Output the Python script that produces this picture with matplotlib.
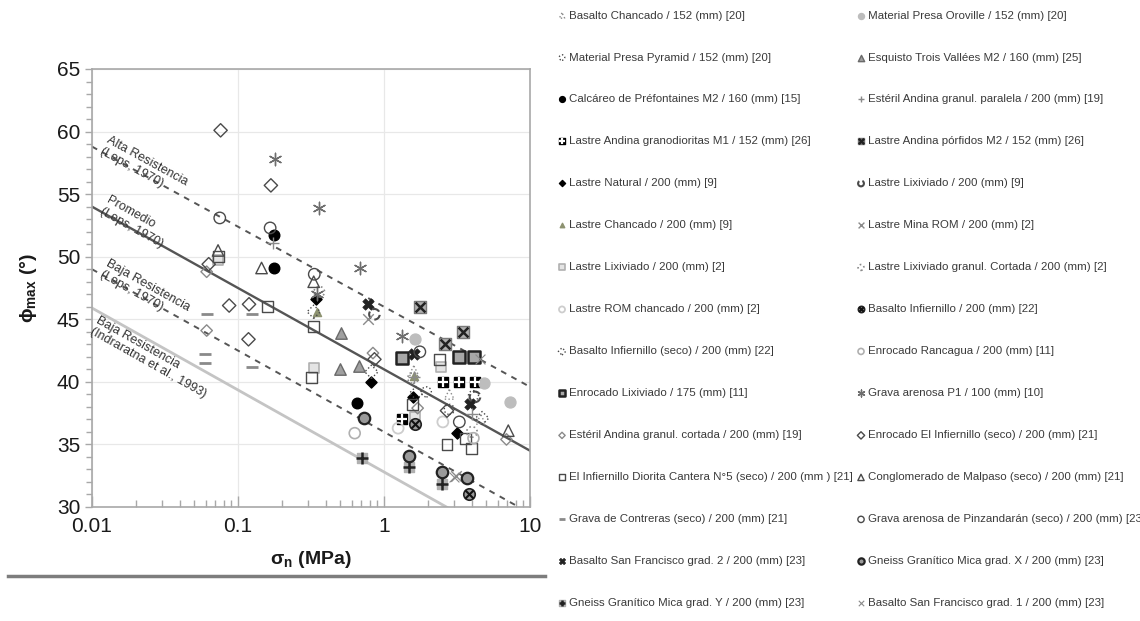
import numpy as np
import matplotlib.pyplot as plt
from matplotlib.lines import Line2D
from matplotlib.legend_handler import HandlerTuple

plt.rcParams['font.family'] = ['Liberation Sans', 'DejaVu Sans']
plt.rcParams['mathtext.fontset'] = 'custom'
plt.rcParams['mathtext.rm'] = 'Liberation Sans'
plt.rcParams['mathtext.bf'] = 'Liberation Sans:bold'

# ensayos: (sigma_n [MPa], phi_max [grados])
basalto_chancado = [(1.6, 40.9), (2.8, 39.0), (4.6, 37.0)]
material_oroville = [(1.63, 43.4), (4.85, 39.9), (7.3, 38.4)]
material_pyramid = [(1.95, 39.2), (2.8, 37.8), (4.1, 38.9)]
esquisto_trois = [(0.51, 43.9), (0.50, 41.0), (0.675, 41.3)]
calcareo = [(0.177, 51.7), (0.177, 49.1), (0.657, 38.3)]
esteril_paralela = [(0.175, 51.1), (1.6, 40.4), (4.0, 37.4)]
granodioritas_m1 = [(1.32, 37.0), (2.55, 40.0), (3.26, 40.0), (4.2, 40.0)]
porfidos_m2 = [(1.77, 46.0), (2.62, 43.0), (3.46, 44.0)]
lastre_natural = [(0.34, 46.6), (0.81, 39.95), (1.59, 38.8), (3.15, 35.9)]
lastre_lixiviado_9 = [(0.86, 45.4), (4.2, 38.8)]
lastre_chancado = [(0.35, 45.6), (1.6, 40.5)]
lastre_mina_rom = [(0.78, 45.0), (3.1, 32.5)]
lastre_lixiviado_2 = [(0.073, 49.7), (0.33, 41.1), (1.63, 37.2), (2.45, 41.2)]
lixiviado_cortada = [(0.36, 47.2), (1.58, 40.3), (4.0, 36.0)]
rom_chancado = [(1.25, 36.3), (2.53, 36.8)]
basalto_infiernillo = [(1.63, 36.6), (3.82, 31.0)]
basalto_infiernillo_seco = [(0.33, 45.6), (0.82, 40.8), (1.66, 39.1), (4.7, 37.1)]
enrocado_rancagua = [(0.63, 35.9), (4.1, 35.5)]
enrocado_lixiviado = [(1.32, 41.9), (3.26, 42.0), (4.15, 42.0)]
grava_p1 = [(0.18, 57.8), (0.36, 53.9), (0.35, 47.0), (0.69, 49.1), (1.32, 43.7)]
esteril_cortada = [(0.061, 44.1), (0.061, 48.8), (0.84, 42.3), (1.70, 37.9), (6.9, 35.4)]
enrocado_infiernillo = [(0.076, 60.1), (0.168, 55.7), (0.063, 49.4), (0.087, 46.1),
                        (0.119, 46.2), (0.118, 43.4), (0.86, 41.8), (2.7, 37.7)]
diorita_n5 = [(0.073, 50.0), (0.16, 46.0), (0.33, 44.4), (0.32, 40.35), (1.57, 38.2),
              (2.4, 41.8), (2.7, 35.0), (3.64, 35.5), (4.0, 34.7)]
conglomerado_malpaso = [(0.073, 50.5), (0.145, 49.1), (0.33, 48.0), (7.1, 36.1)]
grava_contreras = [(0.061, 45.4), (0.0595, 42.2), (0.059, 41.5), (0.125, 45.4), (0.125, 41.2)]
grava_pinzandaran = [(0.075, 53.1), (0.166, 52.3), (0.333, 48.6), (1.76, 42.4), (3.28, 36.8)]
sf_grad2 = [(0.78, 46.2), (1.61, 42.2), (3.88, 38.2)]
gneiss_x = [(0.73, 37.15), (1.48, 34.1), (2.49, 32.8), (3.72, 32.3)]
gneiss_y = [(0.71, 33.9), (1.48, 33.2), (2.49, 31.8)]
sf_grad1 = [(3.0, 32.4), (4.54, 41.8)]

# rectas de referencia: phi en sigma_n = 0.01 MPa y pendiente por decada
leps_alta = (58.8, -6.4)
leps_promedio = (54.0, -6.5)
leps_baja = (49.0, -6.5)
indraratna_baja = (45.9, -6.55)

K, DG, G, LG, XLG = 'black', '#4a4a4a', '#8a8a8a', '#b0b0b0', '#cdcdcd'

# (etiqueta, datos, estilo, estilo del simbolo superpuesto)
series_left = [
    ('Basalto Chancado / 152 (mm) [20]', basalto_chancado,
     dict(marker='^', s=48, fc='none', ec=G, lw=1, ls=':'), None),
    ('Material Presa Pyramid / 152 (mm) [20]', material_pyramid,
     dict(marker='o', s=52, fc='none', ec=DG, lw=1, ls=':'), None),
    ('Calcáreo de Préfontaines M2 / 160 (mm) [15]', calcareo,
     dict(marker='o', s=58, fc=K, ec=K, lw=1), None),
    ('Lastre Andina granodioritas M1 / 152 (mm) [26]', granodioritas_m1,
     dict(marker='s', s=62, fc=K, ec=K, lw=1), dict(marker='+', s=62, c='white', lw=1.6)),
    ('Lastre Natural / 200 (mm) [9]', lastre_natural,
     dict(marker='D', s=32, fc=K, ec=K, lw=1), None),
    ('Lastre Chancado / 200 (mm) [9]', lastre_chancado,
     dict(marker='^', s=34, fc='#8d9270', ec='#8d9270', lw=1), None),
    ('Lastre Lixiviado / 200 (mm) [2]', lastre_lixiviado_2,
     dict(marker='s', s=58, fc='#e4e4e4', ec=LG, lw=1.2), None),
    ('Lastre ROM chancado / 200 (mm) [2]', rom_chancado,
     dict(marker='o', s=62, fc='none', ec=XLG, lw=1.3), None),
    ('Basalto Infiernillo (seco) / 200 (mm) [22]', basalto_infiernillo_seco,
     dict(marker='D', s=46, fc='none', ec=DG, lw=1, ls=':'), None),
    ('Enrocado Lixiviado / 175 (mm) [11]', enrocado_lixiviado,
     dict(marker='s', s=68, fc='#a8a8a8', ec='#222222', lw=1.8), None),
    ('Estéril Andina granul. cortada / 200 (mm) [19]', esteril_cortada,
     dict(marker='D', s=34, fc='none', ec=G, lw=1), None),
    ('El Infiernillo Diorita Cantera N°5 (seco) / 200 (mm ) [21]', diorita_n5,
     dict(marker='s', s=62, fc='none', ec=DG, lw=1), None),
    ('Grava de Contreras (seco) / 200 (mm) [21]', grava_contreras,
     dict(marker='_', s=80, c=G, lw=2), None),
    ('Basalto San Francisco grad. 2 / 200 (mm) [23]', sf_grad2,
     dict(marker='X', s=68, fc='#222222', ec='#222222', lw=0.5), None),
    ('Gneiss Granítico Mica grad. Y / 200 (mm) [23]', gneiss_y,
     dict(marker='s', s=62, fc=LG, ec=LG, lw=1), dict(marker='+', s=68, c='#222222', lw=1.8)),
]

series_right = [
    ('Material Presa Oroville / 152 (mm) [20]', material_oroville,
     dict(marker='o', s=62, fc='#bdbdbd', ec='#bdbdbd', lw=1), None),
    ('Esquisto Trois Vallées M2 / 160 (mm) [25]', esquisto_trois,
     dict(marker='^', s=68, fc='#a0a0a0', ec='#6a6a6a', lw=1), None),
    ('Estéril Andina granul. paralela / 200 (mm) [19]', esteril_paralela,
     dict(marker='+', s=68, c=G, lw=1), None),
    ('Lastre Andina pórfidos M2 / 152 (mm) [26]', porfidos_m2,
     dict(marker='s', s=68, fc=LG, ec='#7a7a7a', lw=1), dict(marker='x', s=50, c='#222222', lw=1.8)),
    ('Lastre Lixiviado / 200 (mm) [9]', lastre_lixiviado_9,
     dict(marker='o', s=58, fc='none', ec=DG, lw=1.5, ls='--'), None),
    ('Lastre Mina ROM / 200 (mm) [2]', lastre_mina_rom,
     dict(marker='x', s=58, c=G, lw=1), None),
    ('Lastre Lixiviado granul. Cortada / 200 (mm) [2]', lixiviado_cortada,
     dict(marker='o', s=58, fc='none', ec=G, lw=1.2, ls=':'), None),
    ('Basalto Infiernillo / 200 (mm) [22]', basalto_infiernillo,
     dict(marker='o', s=68, fc='#9a9a9a', ec='#222222', lw=1.2), dict(marker='x', s=34, c='#111111', lw=1.5)),
    ('Enrocado Rancagua / 200 (mm) [11]', enrocado_rancagua,
     dict(marker='o', s=62, fc='none', ec=LG, lw=1.2), None),
    ('Grava arenosa P1 / 100 (mm) [10]', grava_p1,
     dict(marker=(6, 2, 0), s=80, c='#6e6e6e', lw=1), None),
    ('Enrocado El Infiernillo (seco) / 200 (mm) [21]', enrocado_infiernillo,
     dict(marker='D', s=46, fc='none', ec=DG, lw=1), None),
    ('Conglomerado de Malpaso (seco) / 200 (mm) [21]', conglomerado_malpaso,
     dict(marker='^', s=68, fc='none', ec=DG, lw=1), None),
    ('Grava arenosa de Pinzandarán (seco) / 200 (mm) [23]', grava_pinzandaran,
     dict(marker='o', s=68, fc='none', ec=DG, lw=1), None),
    ('Gneiss Granítico Mica grad. X / 200 (mm) [23]', gneiss_x,
     dict(marker='o', s=68, fc='#9a9a9a', ec='#222222', lw=1.6), None),
    ('Basalto San Francisco grad. 1 / 200 (mm) [23]', sf_grad1,
     dict(marker='x', s=50, c=G, lw=0.8), None),
]

fig = plt.figure(figsize=(11.4, 6.21), dpi=100)
ax = fig.add_axes([92 / 1140, 1 - 507 / 621, 438 / 1140, 438 / 621])
ax.set_xscale('log')
ax.set_xlim(0.01, 10)
ax.set_ylim(30, 65)

ax.grid(True, which='major', color='#e8e8e8', lw=0.9, zorder=0)
ax.set_axisbelow(True)
for sp in ax.spines.values():
    sp.set_color('#a8a8a8')
    sp.set_linewidth(1.2)
ax.yaxis.set_minor_locator(plt.MultipleLocator(1))
ax.set_yticks(range(30, 66, 5))
ax.set_xticks([0.01, 0.1, 1, 10], ['0.01', '0.1', '1', '10'])
ax.tick_params(axis='both', which='major', labelsize=15, colors='#a8a8a8', labelcolor='#1a1a1a')
ax.tick_params(axis='y', which='both', direction='out', length=5, width=1)
ax.tick_params(axis='y', which='minor', length=4, colors='#a8a8a8')
ax.tick_params(axis='x', which='both', direction='in', length=5, width=1, colors='#a8a8a8')
ax.tick_params(axis='x', which='major', labelcolor='#1a1a1a', length=8, pad=7)

xs = np.logspace(-2, 1, 200)


def recta(params):
    a, b = params
    return a + b * (np.log10(xs) + 2)


ax.plot(xs, recta(leps_alta), color='#555555', lw=1.4, ls=(0, (3, 3)), zorder=2)
ax.plot(xs, recta(leps_promedio), color='#555555', lw=1.7, zorder=2)
ax.plot(xs, recta(leps_baja), color='#555555', lw=1.4, ls=(0, (3, 3)), zorder=2)
ax.plot(xs, recta(indraratna_baja), color='#c4c4c4', lw=2, zorder=2)


def draw_series(lst):
    handles = []
    for label, pts, st, over in lst:
        x = [p[0] for p in pts]
        y = [p[1] for p in pts]
        st = dict(st)
        kw = dict(marker=st.pop('marker'), s=st.pop('s'), linewidths=st.pop('lw'), zorder=3)
        if 'c' in st:
            kw['c'] = st.pop('c')
        else:
            kw['facecolors'] = st.pop('fc')
            kw['edgecolors'] = st.pop('ec')
        if 'ls' in st:
            kw['linestyles'] = st.pop('ls')
        h = ax.scatter(x, y, **kw)
        if over is not None:
            o = dict(over)
            h2 = ax.scatter(x, y, marker=o['marker'], s=o['s'], c=o['c'],
                            linewidths=o['lw'], zorder=4)
            h = (h, h2)
        handles.append(h)
    return handles


h_left = draw_series(series_left)
h_right = draw_series(series_right)

# etiquetas de las rectas, giradas segun su pendiente en pantalla
fig.canvas.draw()


def etiqueta(params, texto, x0, off):
    p1 = ax.transData.transform((0.01, params[0]))
    p2 = ax.transData.transform((10, params[0] + 3 * params[1]))
    ang = np.degrees(np.arctan2(p2[1] - p1[1], p2[0] - p1[0]))
    y0 = params[0] + params[1] * (np.log10(x0) + 2)
    px, py = ax.transData.transform((x0, y0))
    t = np.radians(ang)
    px += -np.sin(t) * off
    py += np.cos(t) * off
    xd, yd = ax.transData.inverted().transform((px, py))
    ax.text(xd, yd, texto, rotation=ang, rotation_mode='anchor', ha='left', va='center',
            fontsize=9, color='#333333', linespacing=1.1, zorder=5)


etiqueta(leps_alta, 'Alta Resistencia\n(Leps, 1970)', 0.0115, 7)
etiqueta(leps_promedio, 'Promedio\n(Leps, 1970)', 0.0115, 7)
etiqueta(leps_baja, 'Baja Resistencia\n(Leps, 1970)', 0.0115, 7)
etiqueta(indraratna_baja, 'Baja Resistencia\n(Indraratna et al., 1993)', 0.0115, -14)

ax.set_xlabel(r'σ$_{\mathbf{n}}$ (MPa)', fontsize=14, fontweight='bold', color='#1a1a1a')
ax.xaxis.set_label_coords(0.5, -0.095)
ax.set_ylabel(r'ϕ$_{\mathbf{max}}$ (°)', fontsize=14, fontweight='bold', color='#1a1a1a')
ax.yaxis.set_label_coords(-0.12, 0.5)

fig.add_artist(Line2D([8 / 1140, 545 / 1140], [1 - 576 / 621] * 2, color='#7d7d7d', lw=2.5))

leg_kw = dict(loc='upper left', frameon=False, fontsize=8.25, labelspacing=2.79,
              handlelength=0.7, handletextpad=0.25, borderpad=0, borderaxespad=0,
              markerscale=0.55, scatterpoints=1, labelcolor='#3a3a3a',
              handler_map={tuple: HandlerTuple(ndivide=1, pad=0)})
fig.legend(h_left, [s[0] for s in series_left], bbox_to_anchor=(558 / 1140, 1 - 10.5 / 621), **leg_kw)
fig.legend(h_right, [s[0] for s in series_right], bbox_to_anchor=(857 / 1140, 1 - 10.5 / 621), **leg_kw)

fig.savefig('out.png', dpi=100)
